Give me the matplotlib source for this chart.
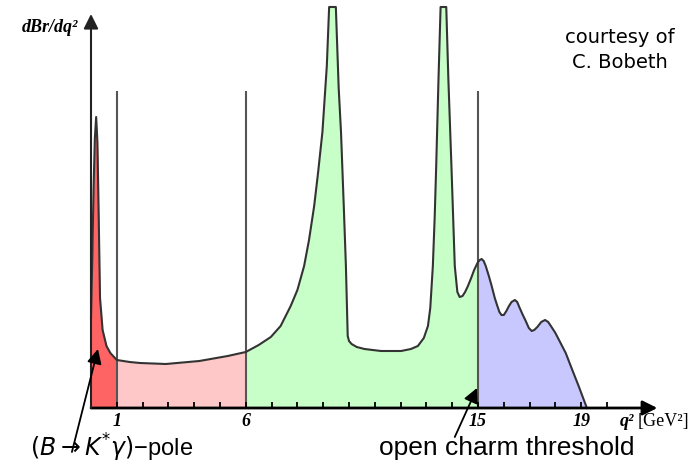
import numpy as np
import matplotlib.pyplot as plt

# Sketch of dBr/dq^2 for B -> K* l l (arbitrary units)
q2 = [0.0, 0.05, 0.1, 0.15, 0.2, 0.25, 0.3, 0.35, 0.45, 0.6, 0.75, 1.0,
      1.5, 1.9, 2.9, 4.2, 5.3, 6.0, 6.5, 6.97, 7.35, 7.74, 8.0, 8.26, 8.45,
      8.65, 8.8, 8.97, 9.14, 9.23, 9.49, 9.6, 9.69, 9.8, 9.88, 9.95, 10.0,
      10.1, 10.3, 10.6, 11.24, 12.02, 12.4, 12.67, 12.9, 13.06, 13.15, 13.25,
      13.32, 13.38, 13.47, 13.55, 13.77, 13.85, 13.97, 14.1, 14.2, 14.29,
      14.4, 14.5, 14.61, 14.75, 14.85, 15.0, 15.07, 15.14, 15.22, 15.3, 15.42,
      15.53, 15.65, 15.75, 15.83, 15.91, 16.0, 16.1, 16.2, 16.3, 16.43, 16.52,
      16.6, 16.72, 16.85, 16.97, 17.08, 17.18, 17.3, 17.45, 17.6, 17.72, 17.85,
      18.0, 18.12, 18.4, 18.64, 18.9, 19.22]
dbr = [90, 150, 220, 270, 291, 265, 190, 110, 78, 62, 55, 48,
       46, 45, 44, 47, 52, 56, 63, 71, 82, 102, 118, 142, 168,
       202, 235, 276, 342, 401, 401, 320, 276, 200, 142, 72, 67,
       64, 61, 59, 57, 57, 59, 62, 70, 82, 100, 142,
       190, 242, 330, 401, 401, 330, 242, 142, 116, 111,
       112, 116, 122, 131, 138, 146, 148, 149, 147, 142, 132,
       122, 110, 102, 96, 93, 93, 97, 102, 106, 108, 106,
       101, 94, 87, 80, 77, 78, 81, 86, 88, 86, 81,
       75, 69, 55, 39, 22, 0]

bounds = [0, 1, 6, 15, 19.22]
region_colors = ['#ff6464', '#ffc8c8', '#c8ffc8', '#c8c8ff']
xticks = list(range(1, 21))
xlabels = {1: '1', 6: '6', 15: '15', 19: '19'}

q2 = np.array(q2)
dbr = np.array(dbr)

fig = plt.figure(figsize=(6.92, 4.64), dpi=100)
ax = fig.add_axes([0, 0, 1, 1])
ax.set_xlim(-91 / 25.8, 601 / 25.8)
ax.set_ylim(-55, 409)
ax.set_axis_off()

# coloured regions
for i in range(4):
    sel = (q2 >= bounds[i]) & (q2 <= bounds[i + 1])
    ax.fill_between(q2, 0, dbr, where=sel, color=region_colors[i], lw=0)

# region separators
ax.vlines([1, 6, 15], 0, 317, color='#555555', lw=1.5)

ax.plot(q2, dbr, color='#333333', lw=1.5, solid_joinstyle='round')

# small ticks
ax.vlines(xticks, 0, 6, color='black', lw=1.3)

# axes with arrows
ax.annotate('', xy=(21.95, 0), xytext=(0, 0),
            arrowprops=dict(arrowstyle='-|>', color='black', lw=2,
                            mutation_scale=22, shrinkA=0, shrinkB=0))
ax.annotate('', xy=(0, 394), xytext=(0, 0),
            arrowprops=dict(arrowstyle='-|>', color='#222222', lw=1.5,
                            mutation_scale=22, shrinkA=0, shrinkB=0))

for x, s in xlabels.items():
    ax.text(x, -13, s, ha='center', va='center', fontsize=13,
            family='Liberation Serif', weight='bold', style='italic')

ax.text(20.5, -13, 'q²', ha='left', va='center', fontsize=13,
        family='Liberation Serif', weight='bold', style='italic')
ax.text(21.2, -13, '[GeV²]', ha='left', va='center', fontsize=13,
        family='Liberation Serif')
ax.text(-1.6, 381, 'dBr/dq²', ha='center', va='center', fontsize=13,
        family='Liberation Serif', weight='bold', style='italic')

ax.text(20.5, 359, 'courtesy of\nC. Bobeth', ha='center', va='center',
        fontsize=14, linespacing=1.45)

# annotations
ax.annotate('', xy=(0.27, 59), xytext=(-0.74, -44),
            arrowprops=dict(arrowstyle='-|>', color='black', lw=1.3,
                            mutation_scale=22, shrinkA=0, shrinkB=0))
ax.text(0.81, -39, r'$(B\rightarrow K^{*}\gamma)$−pole', ha='center',
        va='center', fontsize=17, family='Liberation Sans')
ax.annotate('', xy=(14.96, 20), xytext=(14.1, -29),
            arrowprops=dict(arrowstyle='-|>', color='black', lw=1.3,
                            mutation_scale=22, shrinkA=0, shrinkB=0))
ax.text(16.1, -39, 'open charm threshold', ha='center', va='center',
        fontsize=19, family='Liberation Sans')

fig.savefig('out.png', dpi=100)
